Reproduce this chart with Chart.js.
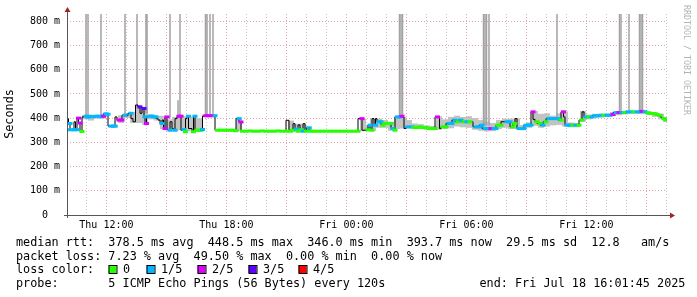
<!DOCTYPE html>
<html lang="en">
<head>
  <meta charset="UTF-8">
  <title>Median RTT</title>
  <script src="https://cdn.jsdelivr.net/npm/chart.js"></script>
  <style>
    html, body { margin: 0; padding: 0; background: #fff; }
  </style>
</head>
<body>
  <canvas id="chart" width="697" height="297"></canvas>

  <script>
    // graph start: Thu 10:01:45, all times below are minutes after that
    const startMin = 601.75;
    const hourTicks = [11,12,13,14,15,16,17,18,19,20,21,22,23,24,25,26,27,28,29,30,31,32,33,34,35,36,37,38,39,40];
    const yTicks = [0,50,100,150,200,250,300,350,400,450,500,550,600,650,700,750,800];

    // median rtt (ms) and loss class (0..4, null = plain black line)
    const medT = [
      0,4.5,9,13.5,21,25.5,30,34.5,39,45,51,57,63,69,78,87,96,102,109.5,117,
      123,127.5,132,138,144,150,156,165,174,183,192,198,205.5,213,219,225,231,234,238.5,243,
      249,255,261,267,273,279,285,289.5,294,300,304.5,309,315,319.5,324,330,336,342,346.5,351,355.5,
      360,364.5,369,375,379.5,384,390,396,402,406.5,411,417,426,435,444,
      451.5,462,471,480,489,498,507,511.5,516,522,526.5,537,549,561,573,585,597,609,621,633,645,657,
      666,670.5,678,684,688.5,693,699,703.5,708,714,718.5,726,732,741,753,765,777,789,801,813,825,837,849,861,873,885,
      897,903,909,915,921,925.5,930,936,942,948,954,963,972,978,984,991.5,999,1005,1011,
      1017,1023,1029,1035,1041,1050,1059,1068,1077,1086,1095,1104,1111.5,1117.5,1122,
      1128,1137,1146,1155,1164,1173,1182,1191,1200,1209,1218,1227,1236,1245,1254,1263,1272,1281,1287,1293,1302,1311,1320,1329,1338,
      1344,1350,1356,1365,1371,1377,1386,1392,1398,1404,1410,1419,1428,1437,1446,1455,1464,1473,1482,1489.5,1494,1500,1509,1518,1527,1536,1545,1551,
      1557,1566,1575,1584,1593,1602,1611,1620,1629,1638,1647,1656,1665,1674,1683,1692,1701,1710,1719,1725,1734,1743,1752,1761,1770,1779,1785,1791,1797
    ];
    const medV = [
      352,398,378,352,352,385,352,400,380,345,405,408,404,408,406,408,408,406,408,418,
      416,367,367,367,367,405,392,392,412,410,420,398,385,454,446,420,440,405,378,405,
      408,408,405,405,398,392,378,392,357,405,353,350,385,357,350,398,408,408,350,353,344,
      398,408,357,357,344,408,350,350,350,353,408,410,410,410,410,
      350,350,350,350,350,350,348,398,398,384,346,346,347,346,346,347,346,346,346,347,346,346,
      391,346,350,377,355,346,372,352,346,377,346,360,346,346,346,346,346,346,346,346,346,346,346,346,346,398,
      350,352,371,350,398,371,398,385,385,371,378,378,378,357,350,405,405,408,405,
      357,364,364,364,361,361,364,361,361,357,357,357,405,405,357,
      364,364,378,378,392,385,392,385,385,385,385,364,364,371,357,357,357,357,357,371,371,385,385,385,364,
      378,398,357,357,357,371,371,371,426,395,385,378,371,385,398,398,398,398,392,426,405,371,371,371,371,371,392,426,
      405,405,405,410,410,412,412,412,412,415,423,423,423,423,426,426,426,426,426,428,426,422,419,419,415,412,405,398,392
    ];
    const medLoss = [
      1,null,1,1,1,null,1,2,2,0,null,1,1,1,1,1,1,1,2,1,
      1,null,1,1,1,null,2,2,1,null,1,null,null,null,3,null,3,1,2,null,
      1,1,1,1,null,null,1,null,2,2,null,1,null,null,1,null,2,2,null,1,0,
      null,1,null,null,0,1,0,0,0,1,null,2,2,2,1,
      0,0,0,0,0,0,0,null,1,2,0,0,0,0,0,0,0,0,0,0,0,0,
      null,0,0,null,1,0,null,0,1,null,0,1,0,0,0,0,0,0,0,0,0,0,0,0,0,2,
      null,0,1,0,null,1,null,1,1,0,0,0,0,1,0,1,1,2,null,
      null,1,null,1,0,0,0,0,0,0,0,0,2,null,null,
      0,0,1,1,1,0,1,0,1,0,null,1,1,1,1,1,2,1,1,0,0,null,1,1,0,
      0,null,1,1,1,1,1,1,2,null,0,0,1,0,1,1,1,1,0,2,null,1,1,0,1,0,0,null,
      1,0,1,1,1,1,0,1,1,2,1,2,1,0,1,1,0,1,1,2,1,0,0,0,0,0,null,0,0
    ];

    // smoke: spread of the 5 pings (ms)
    const smokeT = [
      54,72,90,108,144,162,180,198,216,234,252,270,288,306,324,342,360,378,396,414,432,
      516,672,690,708,726,888,
      900,918,936,954,972,990,1008,1026,1044,1062,1080,1098,1116,1134,1152,1170,1188,1206,1224,1242,1260,1278,1296,1314,1332,
      1350,1368,1386,1404,1422,1440,1458,1476,1494,1512,1530,1548,1566,1584,1602,1620,1638,1656,1674,1692,1710,1728,1746,1764,1782,1797
    ];
    const smokeLo = [
      395,390,398,398,362,380,400,380,380,372,395,390,355,348,348,350,346,346,346,405,405,
      346,346,346,346,346,346,
      348,348,360,360,348,355,357,357,355,355,352,352,352,355,358,365,362,360,352,348,345,346,355,360,355,
      355,350,360,368,360,365,370,372,365,362,362,385,395,400,402,405,408,412,415,418,418,418,412,405,395,385
    ];
    const smokeHi = [
      412,410,412,418,372,412,420,425,455,440,415,410,410,395,405,410,408,408,400,415,415,
      398,390,377,377,365,398,
      372,398,398,392,385,408,405,392,378,375,370,368,408,395,405,410,405,408,400,392,385,380,392,398,398,
      400,372,382,430,418,420,410,420,428,382,380,430,415,418,418,418,425,428,430,430,430,432,428,425,418,405
    ];

    // tall smoke spikes (go off the top of the graph)
    const spikeT  = [57,63,102,174,210,237,240,309,333,339,415.5,420,429,438,997.5,1002,1006.5,1249.5,1254,1258.5,1266,1470,1657.5,1662,1686,1717.5,1722,1726.5];
    const spikeLo = [405,405,405,412,440,420,420,400,400,400,410,410,410,410,405,405,405,370,370,370,370,400,425,425,425,425,425,425];
    const spikeHi = [830,830,830,830,830,830,830,830,474,830,830,830,830,830,830,830,830,830,830,830,830,830,830,830,830,830,830,830];

    const lossColors = ['#26ff00', '#00b8ff', '#dd00ff', '#5e00ff', '#ff0000'];
    const lossLabels = ['0', '1/5', '2/5', '3/5', '4/5'];

    const majorGrid = 'rgba(222,150,150,0.85)';
    const minorGrid = 'rgba(190,190,190,0.9)';
    const mono = '"DejaVu Sans Mono", monospace';

    const hourOf = v => Math.round((v + startMin) / 60);

    const lossPts = [];
    const lossPtColors = [];
    medT.forEach((t, i) => {
      if (medLoss[i] !== null) {
        lossPts.push({ x: t, y: medV[i] });
        lossPtColors.push(lossColors[medLoss[i]]);
      }
    });

    // axes, arrows and the text block under the graph
    const decor = {
      id: 'decor',
      afterDraw(chart) {
        const c = chart.ctx, a = chart.chartArea;
        c.save();
        c.strokeStyle = '#555';
        c.lineWidth = 1;
        c.beginPath();
        c.moveTo(a.left + 0.5, a.bottom + 3);
        c.lineTo(a.left + 0.5, 10);
        c.moveTo(a.left - 3, a.bottom + 0.5);
        c.lineTo(a.right + 4, a.bottom + 0.5);
        c.stroke();

        c.fillStyle = '#a02424';
        c.beginPath();
        c.moveTo(a.left + 0.5, 7);
        c.lineTo(a.left - 2.5, 12);
        c.lineTo(a.left + 3.5, 12);
        c.fill();
        c.beginPath();
        c.moveTo(a.right + 8, a.bottom + 0.5);
        c.lineTo(a.right + 3, a.bottom - 2.5);
        c.lineTo(a.right + 3, a.bottom + 3.5);
        c.fill();

        c.fillStyle = '#000';
        c.font = '11.8px ' + mono;
        c.textBaseline = 'alphabetic';
        c.textAlign = 'left';
        c.fillText('median rtt:  378.5 ms avg  448.5 ms max  346.0 ms min  393.7 ms now  29.5 ms sd  12.8   am/s', 16, 246);
        c.fillText('packet loss: 7.23 % avg  49.50 % max  0.00 % min  0.00 % now', 16, 259.7);
        c.fillText('loss color:', 16, 273.3);
        c.fillText('probe:       5 ICMP Echo Pings (56 Bytes) every 120s', 16, 287);
        c.fillText('end: Fri Jul 18 16:01:45 2025', 479.5, 287);

        const boxX = [108.5, 146.5, 197.5, 248.5, 298.5];
        lossColors.forEach((col, i) => {
          c.fillStyle = col;
          c.fillRect(boxX[i], 265, 8, 8);
          c.strokeStyle = '#000';
          c.strokeRect(boxX[i] + 0.5, 265.5, 8, 8);
          c.fillStyle = '#000';
          c.fillText(lossLabels[i], boxX[i] + 14.5, 273.3);
        });

        c.save();
        c.translate(10, 114);
        c.rotate(-Math.PI / 2);
        c.textAlign = 'center';
        c.textBaseline = 'middle';
        c.font = '11.8px ' + mono;
        c.fillText('Seconds', 0, 0);
        c.restore();

        c.save();
        c.translate(686.5, 5);
        c.rotate(Math.PI / 2);
        c.textAlign = 'left';
        c.textBaseline = 'middle';
        c.font = '8.3px ' + mono;
        c.fillStyle = '#b4b4b4';
        c.fillText('RRDTOOL / TOBI OETIKER', 0, 0);
        c.restore();

        c.restore();
      }
    };

    new Chart(document.getElementById('chart'), {
      type: 'line',
      data: {
        datasets: [
          {
            type: 'bar',
            label: 'smoke',
            data: smokeT.map((t, i) => ({ x: t, y: [smokeLo[i], smokeHi[i]] })),
            backgroundColor: '#c2c2c2',
            barThickness: 6,
            inflateAmount: 0,
            grouped: false,
            order: 4
          },
          {
            type: 'bar',
            label: 'spikes',
            data: spikeT.map((t, i) => ({ x: t, y: [spikeLo[i], spikeHi[i]] })),
            backgroundColor: '#a2a2a2',
            barThickness: 1.5,
            inflateAmount: 0,
            grouped: false,
            order: 3
          },
          {
            type: 'line',
            label: 'median rtt',
            data: medT.map((t, i) => ({ x: t, y: medV[i] })),
            borderColor: '#000',
            borderWidth: 1,
            stepped: 'after',
            pointRadius: 0,
            order: 2
          },
          {
            type: 'line',
            label: 'loss',
            data: lossPts,
            showLine: false,
            pointStyle: 'line',
            pointRadius: 2.5,
            pointBorderWidth: 3,
            pointBorderColor: lossPtColors,
            pointBackgroundColor: lossPtColors,
            order: 1
          }
        ]
      },
      options: {
        responsive: false,
        animation: false,
        events: [],
        layout: { padding: { top: 14, right: 30, left: 0, bottom: 0 } },
        plugins: { legend: { display: false }, tooltip: { enabled: false } },
        scales: {
          x: {
            type: 'linear',
            min: 0,
            max: 1800,
            offset: false,
            afterBuildTicks: s => { s.ticks = hourTicks.map(h => ({ value: h * 60 - startMin })); },
            afterFit: s => { s.height = 82; },
            grid: {
              offset: false,
              drawTicks: false,
              lineWidth: 1,
              color: ctx => (hourOf(ctx.tick.value) % 3 === 0 ? majorGrid : minorGrid)
            },
            border: { display: false, dash: [1, 2] },
            ticks: {
              autoSkip: false,
              maxRotation: 0,
              padding: 4,
              color: '#000',
              font: { family: mono, size: 10 },
              callback: v => {
                const h = hourOf(v);
                if (h % 6 !== 0) return '';
                const hh = String(h % 24).padStart(2, '0');
                return (h < 24 ? 'Thu ' : 'Fri ') + hh + ':00';
              }
            }
          },
          y: {
            min: 0,
            max: 830,
            afterBuildTicks: s => { s.ticks = yTicks.map(v => ({ value: v })); },
            afterFit: s => { s.width = 67; },
            grid: {
              drawTicks: false,
              lineWidth: 1,
              color: ctx => (ctx.tick.value % 100 === 0 ? majorGrid : minorGrid)
            },
            border: { display: false, dash: [1, 2] },
            ticks: {
              padding: 7,
              color: '#000',
              font: { family: mono, size: 10 },
              callback: v => (v % 100 !== 0 ? '' : (v === 0 ? '0  ' : v + ' m'))
            }
          }
        }
      },
      plugins: [decor]
    });
  </script>
</body>
</html>
